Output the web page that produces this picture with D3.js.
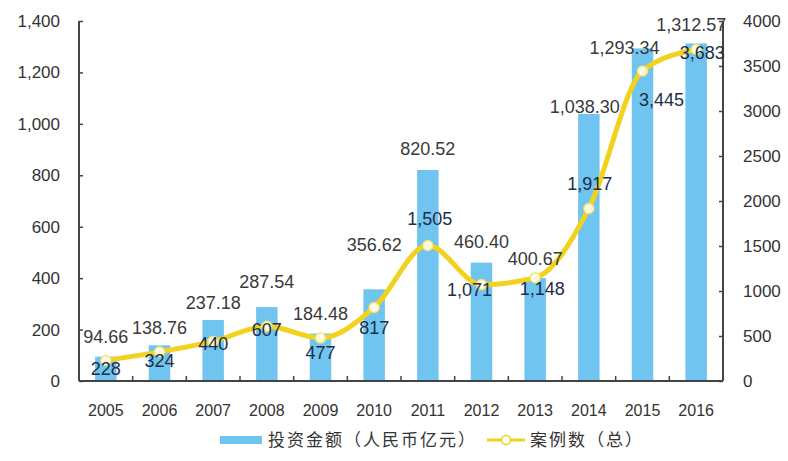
<!DOCTYPE html>
<html>
<head>
<meta charset="utf-8">
<script src="https://cdn.jsdelivr.net/npm/d3@7"></script>
<style>
  body { margin: 0; background: #fff; }
  text { font-family: "Liberation Sans", Arial, sans-serif; fill: #333; }
</style>
</head>
<body>
<script>
// data
const years = ["2005","2006","2007","2008","2009","2010","2011","2012","2013","2014","2015","2016"];
const amounts = [94.66, 138.76, 237.18, 287.54, 184.48, 356.62, 820.52, 460.40, 400.67, 1038.30, 1293.34, 1312.57];
const cases = [228, 324, 440, 607, 477, 817, 1505, 1071, 1148, 1917, 3445, 3683];
const leftTicks = [0, 200, 400, 600, 800, 1000, 1200, 1400];
const rightTicks = [0, 500, 1000, 1500, 2000, 2500, 3000, 3500, 4000];
const legendLabels = ["投资金额（人民币亿元）", "案例数（总）"];

// label nudges (layout only), [dx, dy] relative to bar top / point
const amountNudge = [[0,-20],[0,-18],[0,-17],[0,-25],[0,-20],[0,-45],[0,-21],[0,-21],[0,-19],[-4,-7],[-18,-1],[-5,-19]];
const caseNudge = [[0,8],[0,9],[0,2],[0,3],[0,15],[0,20],[2,-27],[-12,5],[7,11],[1,-25],[19,29],[6,3]];

const width = 788, height = 461;
const margin = { left: 79, right: 65, top: 21, bottom: 80 };
const x0 = margin.left, x1 = width - margin.right;
const yTop = margin.top, yBot = height - margin.bottom;

const svg = d3.select("body").append("svg")
  .attr("width", width)
  .attr("height", height);

const x = d3.scaleBand().domain(years).range([x0, x1]).paddingInner(0.6).paddingOuter(0.3);
const yL = d3.scaleLinear().domain([0, 1400]).range([yBot, yTop]);
const yR = d3.scaleLinear().domain([0, 4000]).range([yBot, yTop]);
const cx = d => x(d) + x.bandwidth() / 2;

const blue = "#6fc4f0", yellow = "#f2d21e", axisCol = "#444";

// bars
svg.selectAll("rect.bar")
  .data(amounts)
  .enter().append("rect")
  .attr("class", "bar")
  .attr("x", (d, i) => x(years[i]))
  .attr("y", d => yL(d))
  .attr("width", x.bandwidth())
  .attr("height", d => yBot - yL(d))
  .attr("fill", blue);

// axes
const leftAxis = svg.append("g")
  .attr("transform", `translate(${x0},0)`)
  .call(d3.axisRight(yL).tickValues(leftTicks).tickSize(4).tickFormat(d3.format(",")));
leftAxis.selectAll("text").attr("x", -19).attr("text-anchor", "end").style("font-size", "17px");

const rightAxis = svg.append("g")
  .attr("transform", `translate(${x1},0)`)
  .call(d3.axisLeft(yR).tickValues(rightTicks).tickSize(4).tickFormat(d3.format("d")));
rightAxis.selectAll("text").attr("x", 20).attr("text-anchor", "start").style("font-size", "17px");

const xAxis = svg.append("g")
  .attr("transform", `translate(0,${yBot})`)
  .call(d3.axisBottom(x).tickSize(0).tickPadding(24));
xAxis.selectAll("text").style("font-size", "16px");

// category boundary ticks
svg.append("g").selectAll("line")
  .data(years.slice(1))
  .enter().append("line")
  .attr("x1", (d, i) => x0 + x.step() * (i + 1))
  .attr("x2", (d, i) => x0 + x.step() * (i + 1))
  .attr("y1", yBot - 5).attr("y2", yBot)
  .attr("stroke", axisCol).attr("stroke-width", 1.5);

[leftAxis, rightAxis, xAxis].forEach(g => {
  g.select(".domain").attr("stroke", axisCol).attr("stroke-width", 2);
  g.selectAll(".tick line").attr("stroke", axisCol).attr("stroke-width", 1.5);
  g.selectAll("text").style("fill", "#333").style("font-family", "'Liberation Sans', Arial, sans-serif");
});
leftAxis.select(".domain").attr("d", `M0,${yTop}V${yBot}`);
rightAxis.select(".domain").attr("d", `M0,${yTop}V${yBot}`);
xAxis.select(".domain").attr("d", `M${x0},0H${x1}`);

// line
const line = d3.line()
  .x((d, i) => cx(years[i]))
  .y(d => yR(d))
  .curve(d3.curveMonotoneX);

svg.append("path")
  .datum(cases)
  .attr("d", line)
  .attr("fill", "none")
  .attr("stroke", yellow)
  .attr("stroke-width", 5)
  .attr("stroke-linejoin", "round");

svg.selectAll("circle.pt")
  .data(cases)
  .enter().append("circle")
  .attr("class", "pt")
  .attr("cx", (d, i) => cx(years[i]))
  .attr("cy", d => yR(d))
  .attr("r", 5)
  .attr("fill", "#fffbe0")
  .attr("stroke", "#f6e27a")
  .attr("stroke-width", 1.5);

// amount labels
svg.selectAll("text.amt")
  .data(amounts)
  .enter().append("text")
  .attr("class", "amt")
  .attr("x", (d, i) => cx(years[i]) + amountNudge[i][0])
  .attr("y", (d, i) => yL(d) + amountNudge[i][1])
  .attr("dy", "0.35em")
  .attr("text-anchor", "middle")
  .style("font-size", "18px")
  .style("fill", "#3a3a3a")
  .text(d => d3.format(",.2f")(d));

// case labels
svg.selectAll("text.cs")
  .data(cases)
  .enter().append("text")
  .attr("class", "cs")
  .attr("x", (d, i) => cx(years[i]) + caseNudge[i][0])
  .attr("y", (d, i) => yR(d) + caseNudge[i][1])
  .attr("dy", "0.35em")
  .attr("text-anchor", "middle")
  .style("font-size", "18px")
  .style("fill", "#1c2e4a")
  .text(d => d3.format(",")(d));

// legend
const lg = svg.append("g").attr("transform", "translate(0,440)");
lg.append("rect").attr("x", 220).attr("y", -4).attr("width", 42).attr("height", 8).attr("fill", blue);
lg.append("text").attr("x", 268).attr("y", 0).attr("dy", "0.35em")
  .style("font-family", "'Noto Sans CJK SC', sans-serif").style("font-size", "17px")
  .style("letter-spacing", "2px").style("fill", "#333")
  .text(legendLabels[0]);
lg.append("line").attr("x1", 487).attr("x2", 525).attr("y1", 0).attr("y2", 0)
  .attr("stroke", yellow).attr("stroke-width", 3);
lg.append("circle").attr("cx", 506).attr("cy", 0).attr("r", 4.5)
  .attr("fill", "#fff").attr("stroke", yellow).attr("stroke-width", 1.5);
lg.append("text").attr("x", 530).attr("y", 0).attr("dy", "0.35em")
  .style("font-family", "'Noto Sans CJK SC', sans-serif").style("font-size", "17px")
  .style("letter-spacing", "2px").style("fill", "#333")
  .text(legendLabels[1]);
</script>
</body>
</html>
